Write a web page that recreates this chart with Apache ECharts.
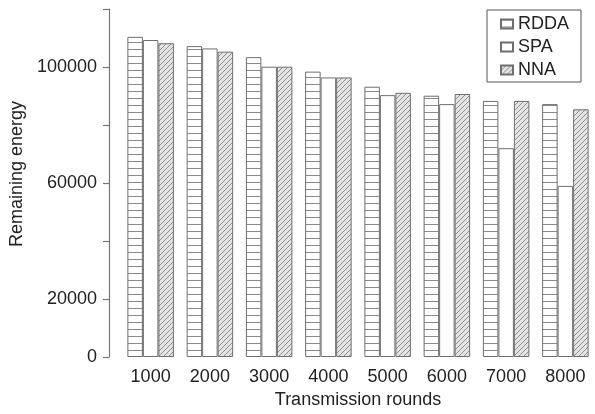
<!DOCTYPE html>
<html>
<head>
<meta charset="utf-8">
<script src="https://cdn.jsdelivr.net/npm/echarts@6/dist/echarts.min.js"></script>
<style>
html,body{margin:0;padding:0;background:#fff;}
#chart{width:595px;height:414px;}
</style>
</head>
<body>
<div id="chart"></div>
<script>
var categories = ['1000','2000','3000','4000','5000','6000','7000','8000'];
var rdda = [110400, 107200, 103400, 98400, 93200, 90100, 88300, 87200];
var spa  = [109300, 106400, 100100, 96400, 90300, 87200, 72000, 59000];
var nna  = [108200, 105300, 100100, 96400, 91100, 90700, 88300, 85400];
var yTickLabels = [0, 20000, 60000, 100000];

function hPattern(){
  var c = document.createElement('canvas');
  c.width = 8; c.height = 7;
  var g = c.getContext('2d');
  g.fillStyle = '#ffffff'; g.fillRect(0,0,8,7);
  g.fillStyle = '#8a8a8a'; g.fillRect(0,0,8,1);
  return c;
}
function dPattern(){
  var c = document.createElement('canvas');
  c.width = 5; c.height = 5;
  var g = c.getContext('2d');
  g.fillStyle = '#e4e4e4'; g.fillRect(0,0,5,5);
  g.strokeStyle = '#8f8f8f'; g.lineWidth = 1;
  g.beginPath();
  g.moveTo(-1,6); g.lineTo(6,-1);
  g.moveTo(-1,1); g.lineTo(1,-1);
  g.moveTo(4,6); g.lineTo(6,4);
  g.stroke();
  return c;
}

var font = 'Liberation Sans, Arial, Helvetica, sans-serif';
var chart = echarts.init(document.getElementById('chart'), null, {renderer:'canvas'});
var border = '#6e6e6e';
chart.setOption({
  animation: false,
  backgroundColor: '#fff',
  textStyle: {fontFamily: font},
  grid: {left: 121, right: -8, top: 9, bottom: 57, containLabel: false},
  legend: {
    orient: 'vertical', left: 487, top: 10,
    padding: [5, 12, 3, 13],
    borderColor: '#555', borderWidth: 1,
    icon: 'rect',
    itemWidth: 12, itemHeight: 9, itemGap: 5,
    textStyle: {fontSize: 18, lineHeight: 18, color: '#222', fontFamily: font},
    data: ['RDDA','SPA','NNA']
  },
  xAxis: {
    type: 'category', data: categories,
    name: 'Transmission rounds', nameLocation: 'middle', nameGap: 33,
    nameTextStyle: {fontSize: 18, color: '#222'},
    axisLine: {show: false}, axisTick: {show: false},
    axisLabel: {fontSize: 18, color: '#222', margin: 11}
  },
  yAxis: {
    type: 'value', min: 0, max: 120000, interval: 20000, offset: 12,
    name: 'Remaining energy', nameLocation: 'middle', nameGap: 79,
    nameTextStyle: {fontSize: 18, color: '#222', padding: [0, 0, 0, 18]},
    axisLine: {show: true, lineStyle: {color: '#777', width: 1.2}},
    axisTick: {show: true, length: 6, lineStyle: {color: '#777', width: 1.2}},
    splitLine: {show: false},
    axisLabel: {fontSize: 18, color: '#222', margin: 12,
      formatter: function(v){ return yTickLabels.indexOf(v) >= 0 ? String(v) : ''; }}
  },
  series: [
    {name: 'RDDA', type: 'bar', data: rdda, barWidth: 15.5, barGap: '0%',
     itemStyle: {color: {image: hPattern(), repeat: 'repeat'}, borderColor: border, borderWidth: 1}},
    {name: 'SPA', type: 'bar', data: spa, barWidth: 15.5, barGap: '0%',
     itemStyle: {color: '#ffffff', borderColor: border, borderWidth: 1}},
    {name: 'NNA', type: 'bar', data: nna, barWidth: 15.5, barGap: '0%',
     itemStyle: {color: {image: dPattern(), repeat: 'repeat'}, borderColor: border, borderWidth: 1}}
  ]
});
</script>
</body>
</html>
